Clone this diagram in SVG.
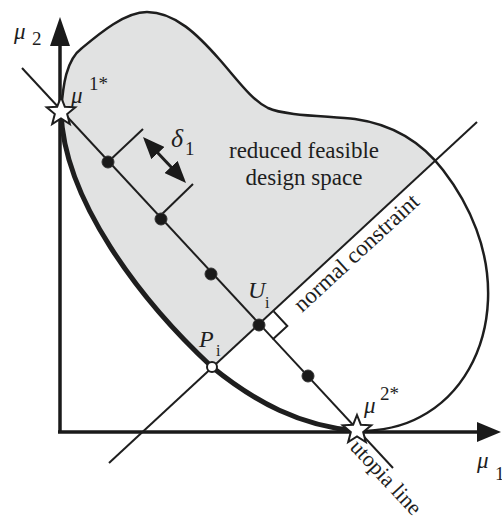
<svg xmlns="http://www.w3.org/2000/svg" width="502" height="521" viewBox="0 0 502 521">
<style>
.ln{stroke:#1e1e1e;fill:none;stroke-width:2;stroke-linecap:butt}
.outline{stroke-width:2.5}
.thick{stroke-width:5;stroke-linecap:round}
.shaft{stroke-width:3}
.axis{stroke:#1a1a1a;stroke-width:3.5;fill:none}
.txt{font-family:"Liberation Serif","Times New Roman",serif;fill:#1e1e1e}
.it{font-style:italic}
.dot{fill:#1a1a1a;stroke:#333;stroke-width:1}
.star{fill:#fff;stroke:#1e1e1e;stroke-width:2;stroke-linejoin:miter}
</style>
<defs>
<clipPath id="above"><polygon points="-200,749 700,-85 -200,-85"/></clipPath>
<marker id="ah" viewBox="0 0 22 18" refX="18" refY="9" markerWidth="22" markerHeight="18" markerUnits="userSpaceOnUse" orient="auto-start-reverse"><path d="M0,0 L22,9 L0,18 Z" fill="#1a1a1a"/></marker>
<path id="starShape" d="M0,-15 L3.82,-5.26 L14.27,-4.64 L6.18,2.01 L8.82,12.14 L0,6.5 L-8.82,12.14 L-6.18,2.01 L-14.27,-4.64 L-3.82,-5.26 Z"/>
</defs>

<g id="feasible-region">
<path clip-path="url(#above)" fill="#e1e2e2" stroke="none" d="M61,112 C63,85 66,60 82,48 C100,33 125,12 147,12 C175,12 198,35 220,60 C240,83 252,100 268,108 C285,116 330,116 355,119 C390,124 420,140 443,170 C470,205 490,250 488,300 C486,350 462,395 420,417 C400,428 378,431 357,431 C300,426 255,402 212,367 C140,300 64,200 61,112 Z"/>
<path class="ln outline" d="M61,112 C63,85 66,60 82,48 C100,33 125,12 147,12 C175,12 198,35 220,60 C240,83 252,100 268,108 C285,116 330,116 355,119 C390,124 420,140 443,170 C470,205 490,250 488,300 C486,350 462,395 420,417 C400,428 378,431 357,431"/>
</g>

<g id="connectors">
<line class="axis" x1="60" y1="432" x2="60" y2="44"/>
<polygon points="60,17 50,46 70,46" fill="#1a1a1a"/>
<line class="axis" x1="58" y1="432" x2="478" y2="432"/>
<polygon points="501,432 477,422 477,442" fill="#1a1a1a"/>
<line id="utopia-line" class="ln" x1="22" y1="68" x2="393" y2="468"/>
<line id="normal-constraint" class="ln" x1="109" y1="463" x2="477" y2="122"/>
<line class="ln" x1="108" y1="162" x2="143" y2="129"/>
<line class="ln" x1="159" y1="217" x2="193" y2="184"/>
<line class="ln shaft" x1="145.7" y1="139.9" x2="183.3" y2="180.1" marker-start="url(#ah)" marker-end="url(#ah)"/>
<polyline class="ln" points="273.7,311.4 287.3,326 272.6,339.6"/>
</g>

<g id="pareto-frontier">
<path class="ln thick" d="M61,112 C64,200 140,300 212,367 C255,402 300,426 357,431"/>
</g>

<g id="point-1"><circle class="dot" cx="108" cy="162" r="6"/></g>
<g id="point-2"><circle class="dot" cx="161" cy="219" r="6"/></g>
<g id="point-3"><circle class="dot" cx="211" cy="274" r="6"/></g>
<g id="point-Ui"><circle class="dot" cx="259" cy="325" r="6"/>
<text class="txt it" x="248" y="298" font-size="24">U</text><text class="txt" x="265" y="308" font-size="16">i</text></g>
<g id="point-5"><circle class="dot" cx="308" cy="376" r="6"/></g>
<g id="point-Pi"><circle cx="212" cy="367" r="5" fill="#fff" stroke="#1e1e1e" stroke-width="2"/>
<text class="txt it" x="199" y="347" font-size="24">P</text><text class="txt" x="216" y="356" font-size="16">i</text></g>

<g id="anchor-mu1"><use href="#starShape" class="star" transform="translate(61,112)"/>
<text class="txt it" x="71" y="103" font-size="23">μ</text><text class="txt" x="89" y="90" font-size="19">1*</text></g>
<g id="anchor-mu2"><use href="#starShape" class="star" transform="translate(357,430)"/>
<text class="txt it" x="364" y="413" font-size="23">μ</text><text class="txt" x="380" y="400" font-size="19">2*</text></g>

<g id="labels">
<text class="txt it" x="14" y="39" font-size="23">μ</text><text class="txt" x="32" y="45" font-size="19">2</text>
<text class="txt it" x="477" y="468" font-size="23">μ</text><text class="txt" x="495" y="480" font-size="19">1</text>
<text class="txt it" x="171" y="147" font-size="26">δ</text><text class="txt" x="185" y="155" font-size="19">1</text>
<text class="txt" x="304" y="158" font-size="23" text-anchor="middle">reduced feasible</text>
<text class="txt" x="304" y="185" font-size="23" text-anchor="middle">design space</text>
<text class="txt" font-size="23" transform="translate(302,313) rotate(-42.7)">normal constraint</text>
<text class="txt" font-size="22" transform="translate(349,448) rotate(47.1)">utopia line</text>
</g>
</svg>
